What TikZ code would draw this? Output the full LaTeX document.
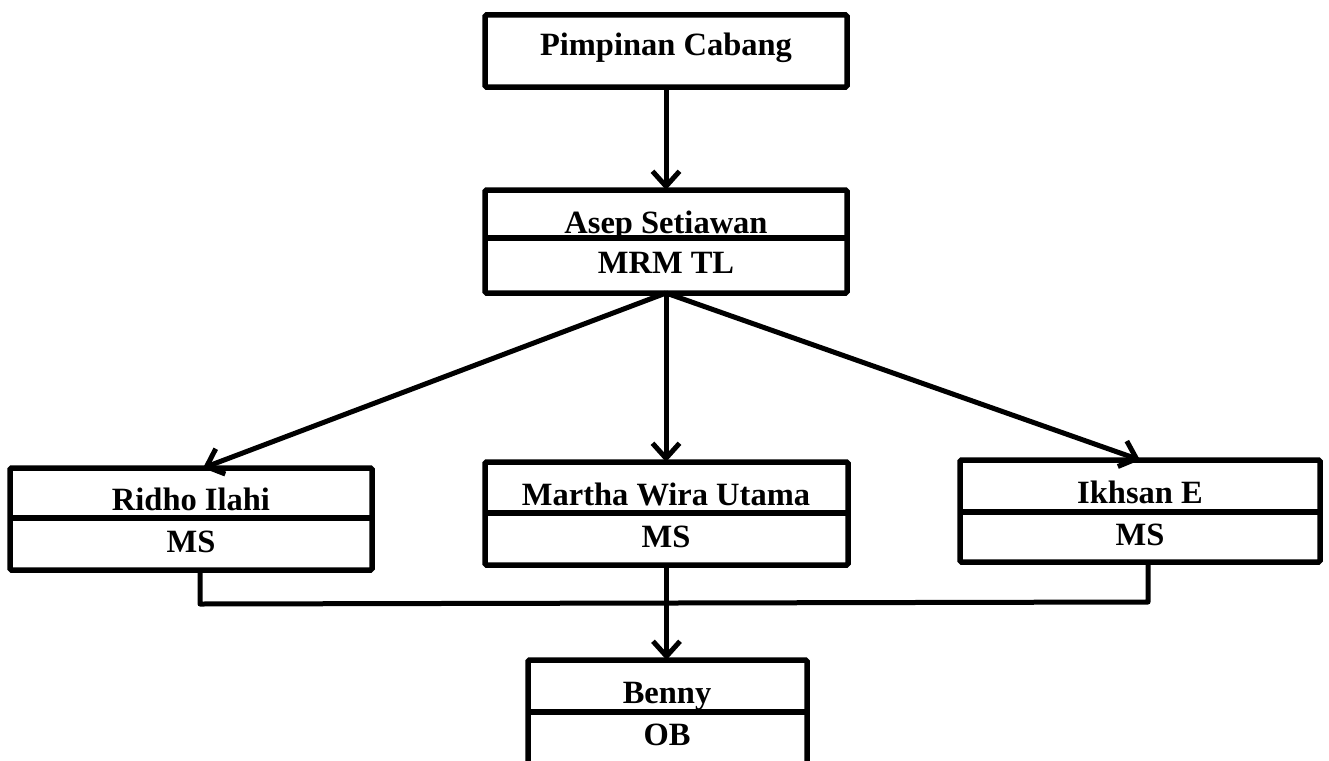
\documentclass[tikz,border=0pt]{standalone}
\usepackage{fontspec}
\setmainfont{Liberation Serif}
\usetikzlibrary{arrows.meta}
\begin{document}
\begin{tikzpicture}[x=1pt,y=-1pt,
  box/.style={draw, line width=5.5pt, inner sep=0pt, outer sep=0pt, rounded corners=1.5pt},
  divider/.style={line width=5.5pt},
  lbl/.style={anchor=base, inner sep=0pt, font=\fontsize{32.5}{38}\selectfont\bfseries},
  conn/.style={line width=5pt, line join=round},
  arr/.style={conn, -{Straight Barb[length=15pt,width=27pt]}}]
\useasboundingbox (0,0) rectangle (1329,760);
\fill[white] (0,0) rectangle (1329,760);
\clip (0,0) rectangle (1329,760);

% boxes
\node[box, minimum width=362pt, minimum height=72pt]  (pimp)   at (666,51) {};
\node[box, minimum width=362pt, minimum height=103pt] (asep)   at (666,241.5) {};
\node[box, minimum width=362pt, minimum height=102pt] (ridho)  at (191,519) {};
\node[box, minimum width=363pt, minimum height=103pt] (martha) at (666.5,513.5) {};
\node[box, minimum width=360pt, minimum height=102pt] (ikhsan) at (1140,511) {};
\node[box, minimum width=279pt, minimum height=110pt] (benny)  at (667.5,715) {};

% dividers
\coordinate (asepD) at (666,238);
\coordinate (ridhoD) at (191,518);
\coordinate (marthaD) at (666,513);
\coordinate (ikhsanD) at (1140,512);
\coordinate (bennyD) at (667,712);
\draw[divider] (asep.west |- asepD) -- (asep.east |- asepD);
\draw[divider] (ridho.west |- ridhoD) -- (ridho.east |- ridhoD);
\draw[divider] (martha.west |- marthaD) -- (martha.east |- marthaD);
\draw[divider] (ikhsan.west |- ikhsanD) -- (ikhsan.east |- ikhsanD);
\draw[divider] (benny.west |- bennyD) -- (benny.east |- bennyD);

% labels
\node[lbl] (pimpT)   at (666,56)  {Pimpinan Cabang};
\node[lbl] (asepT)   at (666,233) {Asep Setiawan};
\node[lbl] (asepR)   at (666,273) {MRM TL};
\node[lbl] (ridhoT)  at (191,510) {Ridho Ilahi};
\node[lbl] (ridhoR)  at (191,552) {MS};
\node[lbl] (marthaT) at (666,505) {Martha Wira Utama};
\node[lbl] (marthaR) at (666,547) {MS};
\node[lbl] (ikhsanT) at (1140,503) {Ikhsan E};
\node[lbl] (ikhsanR) at (1140,545) {MS};
\node[lbl] (bennyT)  at (667,703) {Benny};
\node[lbl] (bennyR)  at (667,745) {OB};

% connectors
\coordinate (ridhoTip) at (203,468);
\draw[arr] (pimp.south) -- (asep.north);
\draw[arr] (asep.south) -- (ridhoTip);
\draw[arr] (asep.south) -- (asep.south |- martha.north);
\draw[arr] (asep.south) -- (ikhsan.north);

\coordinate (r1) at (200,604);
\coordinate (i1) at (1148,602);
\draw[conn] (ridho.south -| r1) -- (r1) -- (i1) -- (ikhsan.south -| i1);
\draw[arr] (martha.south) -- (martha.south |- benny.north);
\end{tikzpicture}
\end{document}
